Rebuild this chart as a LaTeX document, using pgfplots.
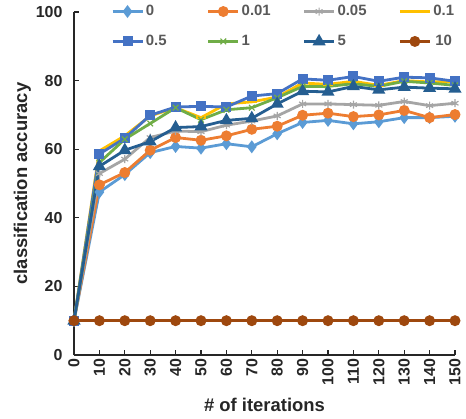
\documentclass[border=0pt]{standalone}
\usepackage{pgfplots}
\pgfplotsset{compat=1.18}
\usepackage{fontspec}
\setmainfont{Liberation Sans}
\definecolor{c0}{HTML}{5B9BD5}
\definecolor{c1}{HTML}{ED7D31}
\definecolor{c2}{HTML}{A5A5A5}
\definecolor{c3}{HTML}{FFC000}
\definecolor{c4}{HTML}{4472C4}
\definecolor{c5}{HTML}{70AD47}
\definecolor{c6}{HTML}{255E91}
\definecolor{c7}{HTML}{9E480E}
\definecolor{axisgray}{HTML}{262626}
\definecolor{leggray}{HTML}{595959}
\newcommand{\lb}[1]{\makebox[59bp][l]{#1}}
\begin{document}
\begin{tikzpicture}
\begin{axis}[
  scale only axis, width=381bp, height=343bp,
  xmin=0, xmax=150, ymin=0, ymax=100,
  xtick={0,10,...,150}, ytick={0,20,...,100},
  axis lines*=left,
  axis line style={-, line width=1.6bp, color=axisgray},
  tick style={line width=1.2bp, color=axisgray},
  tick align=inside, major tick length=5bp,
  /pgf/number format/assume math mode=true,
  ticklabel style={font=\fontsize{16}{18}\selectfont\bfseries, color=axisgray},
  xticklabel style={rotate=90, anchor=east, xshift=0bp},
  yticklabel style={xshift=-8bp},
  xlabel={\# of iterations},
  ylabel={classification accuracy},
  label style={font=\fontsize{18.5}{20}\selectfont\bfseries, color=axisgray},
  ylabel style={yshift=-2bp},
  xlabel style={yshift=-6bp},
  clip=false,
  every axis plot/.append style={line width=2.8bp, mark options={solid}},
  legend columns=4,
  legend style={draw=none, fill=none, at={(axis description cs:0.089,1.031)}, anchor=north west,
    font=\fontsize{15}{17}\selectfont\bfseries, text=leggray,
    inner xsep=3bp, inner ysep=2bp,
    nodes={inner xsep=2bp, inner ysep=2bp},
    /tikz/every even column/.append style={column sep=0bp},
    /tikz/every odd column/.append style={column sep=0bp},
    row sep=14bp},
  legend image code/.code={\draw[mark repeat=2,mark phase=2,#1] plot coordinates {(0bp,0bp) (15bp,0bp) (30bp,0bp)};},
]
\coordinate (O) at (rel axis cs:0,0);
\addplot[color=c0, mark=diamond*, mark size=4.2bp] coordinates {
(0,10) (10,47.5) (20,52.6) (30,59.0) (40,60.8) (50,60.3) (60,61.6) (70,60.7) (80,64.5) (90,67.8) (100,68.4) (110,67.4) (120,68.0) (130,69.2) (140,69.2) (150,69.6)};
\addlegendentry{\lb{0}}
\addplot[color=c1, mark=*, mark size=4bp] coordinates {
(0,10) (10,49.6) (20,53.2) (30,59.7) (40,63.4) (50,62.6) (60,63.9) (70,65.8) (80,66.7) (90,69.9) (100,70.5) (110,69.5) (120,70.0) (130,71.3) (140,69.2) (150,70.1)};
\addlegendentry{\lb{0.01}}
\addplot[color=c2, mark=asterisk, mark size=4bp, mark options={line width=1.2bp}] coordinates {
(0,10) (10,52.9) (20,57.1) (30,63.4) (40,65.3) (50,65.1) (60,67.0) (70,68.2) (80,69.7) (90,73.2) (100,73.2) (110,73.0) (120,72.8) (130,73.9) (140,72.7) (150,73.4)};
\addlegendentry{\lb{0.05}}
\addplot[color=c3, mark=-, mark size=5bp] coordinates {
(0,10) (10,59.5) (20,63.9) (30,69.7) (40,72.1) (50,69.2) (60,73.2) (70,73.8) (80,75.2) (90,79.3) (100,78.9) (110,79.8) (120,78.6) (130,80.0) (140,79.6) (150,79.8)};
\addlegendentry{0.1}
\addplot[color=c4, mark=square*, mark size=3.6bp] coordinates {
(0,10) (10,58.6) (20,63.2) (30,69.9) (40,72.3) (50,72.5) (60,72.3) (70,75.5) (80,76.2) (90,80.5) (100,80.1) (110,81.2) (120,79.8) (130,81.0) (140,80.8) (150,79.8)};
\addlegendentry{\lb{0.5}}
\addplot[color=c5, mark=x, mark size=4bp, mark options={line width=1.2bp}] coordinates {
(0,10) (10,56.1) (20,62.9) (30,67.5) (40,72.1) (50,68.6) (60,71.5) (70,72.1) (80,75.0) (90,78.3) (100,78.3) (110,79.1) (120,78.3) (130,79.8) (140,79.3) (150,78.6)};
\addlegendentry{\lb{1}}
\addplot[color=c6, mark=triangle*, mark size=4.8bp] coordinates {
(0,10) (10,55.0) (20,59.7) (30,62.2) (40,66.3) (50,66.6) (60,68.4) (70,69.0) (80,73.2) (90,76.9) (100,76.7) (110,78.3) (120,77.3) (130,78.1) (140,77.8) (150,77.6)};
\addlegendentry{\lb{5}}
\addplot[color=c7, mark=*, mark size=4bp] coordinates {
(0,10) (10,10) (20,10) (30,10) (40,10) (50,10) (60,10) (70,10) (80,10) (90,10) (100,10) (110,10) (120,10) (130,10) (140,10) (150,10)};
\addlegendentry{10}
\end{axis}
\pgfresetboundingbox
\useasboundingbox ([shift={(-74bp,-64bp)}]O) rectangle ([shift={(392bp,355bp)}]O);
\end{tikzpicture}
\end{document}
